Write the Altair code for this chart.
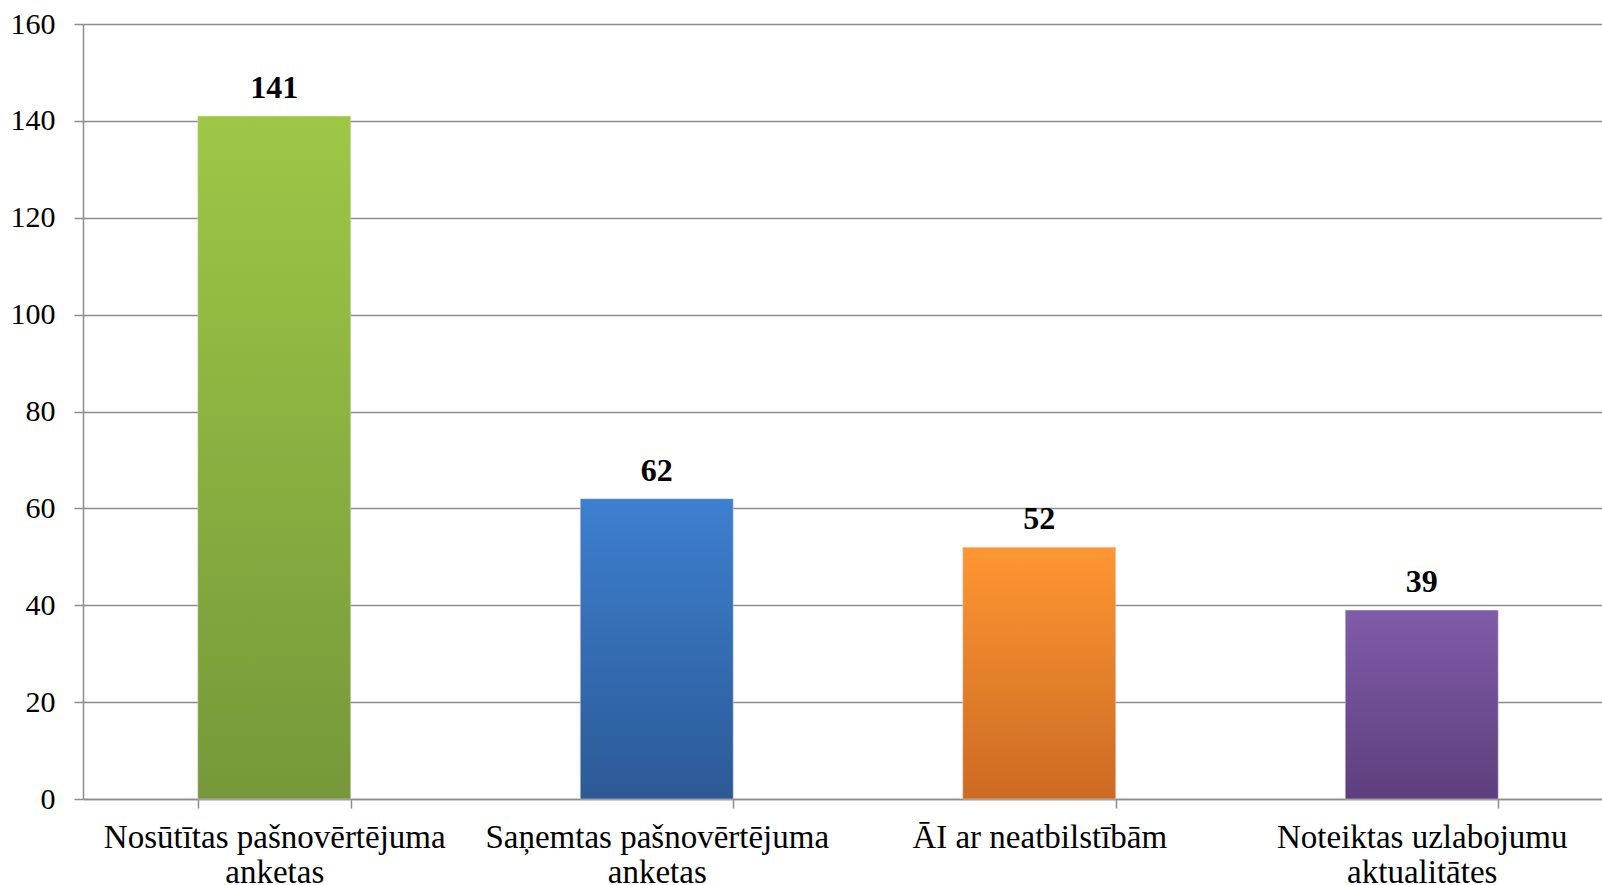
import altair as alt
import pandas as pd

categories = [
    "Nosūtītas pašnovērtējuma|anketas",
    "Saņemtas pašnovērtējuma|anketas",
    "ĀI ar neatbilstībām",
    "Noteiktas uzlabojumu|aktualitātes",
]
values = [141, 62, 52, 39]
gradients = [
    ("#9ec746", "#76983a"),
    ("#3d7fd0", "#2c5a96"),
    ("#ff9633", "#cc6a22"),
    ("#805ba9", "#5e3f7c"),
]
y_ticks = [0, 20, 40, 60, 80, 100, 120, 140, 160]

df = pd.DataFrame({"cat": categories, "val": values})
FONT = "Liberation Serif"

x = alt.X("cat:N", sort=categories, title=None,
          scale=alt.Scale(paddingInner=0.6, paddingOuter=0.3, range=[0, 1530]),
          axis=alt.Axis(labelExpr="split(datum.label, '|')", labelAngle=0,
                        labelFontSize=33, labelPadding=13, labelLineHeight=35,
                        tickBand="extent", grid=False))
y = alt.Y("val:Q", title=None,
          scale=alt.Scale(domain=[0, 160], nice=False),
          axis=alt.Axis(values=y_ticks, labelFontSize=30, labelPadding=19))

base = alt.Chart(df)
layers = []
for cat, (top, bot) in zip(categories, gradients):
    layers.append(
        base.transform_filter(alt.datum.cat == cat).mark_bar(
            color=alt.Gradient(gradient="linear", x1=0, x2=0, y1=0, y2=1,
                               stops=[alt.GradientStop(color=top, offset=0),
                                      alt.GradientStop(color=bot, offset=1)]),
            stroke="#e0e0e0", strokeWidth=0.5
        ).encode(x=x, y=y)
    )
labels = base.mark_text(font=FONT, fontSize=32, fontWeight="bold", color="black",
                        baseline="alphabetic", dy=-18).encode(x=x, y=y, text="val:Q")

chart = alt.layer(*layers, labels).properties(
    width=1519, height=775,
    autosize=alt.AutoSizeParams(type="none"),
    padding={"left": 83, "top": 24, "right": 0, "bottom": 86},
).configure_view(stroke=None).configure(background="white").configure_axis(
    labelFont=FONT, labelColor="black", labelLimit=0,
    tickSize=9, tickColor="#8c8c8c", tickWidth=1.5,
    domainColor="#8c8c8c", domainWidth=1.5, gridColor="#8c8c8c", gridWidth=1.5,
)

chart.save("out.html", embed_options={"renderer": "svg", "actions": False})
